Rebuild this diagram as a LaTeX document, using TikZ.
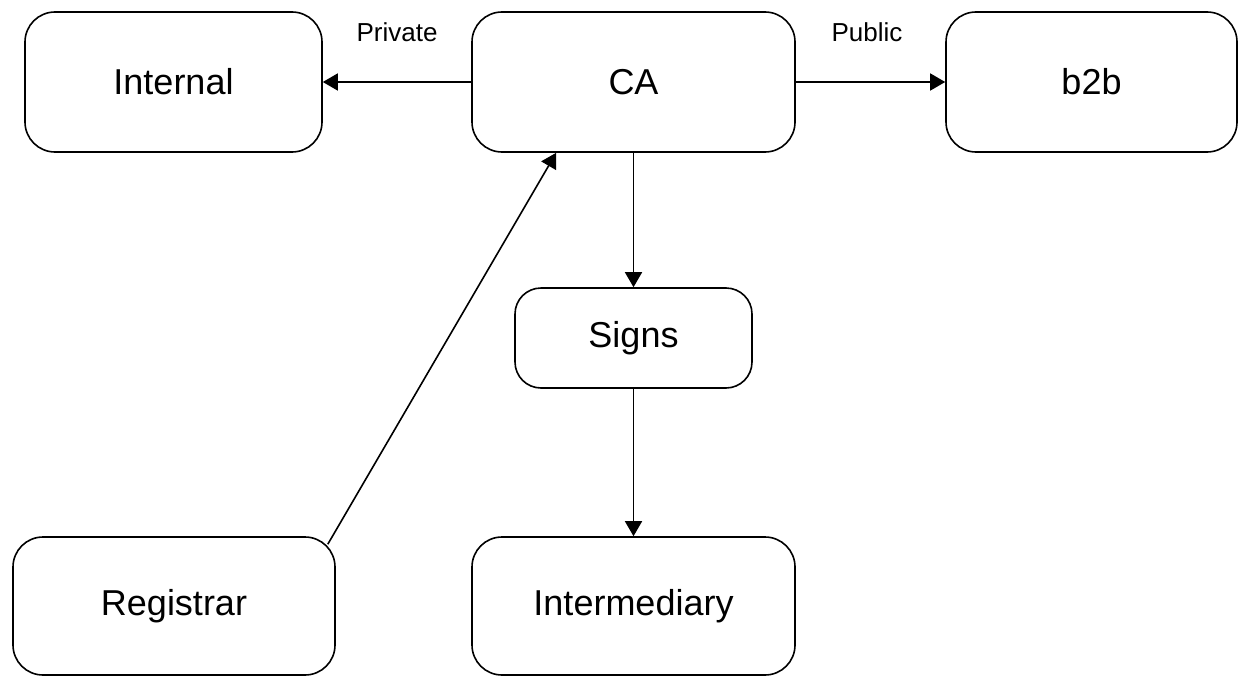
\documentclass[tikz,border=0pt]{standalone}
\usepackage{fontspec}
\setmainfont{Liberation Sans}
\usetikzlibrary{arrows.meta,calc}

\begin{document}
\begin{tikzpicture}[x=1pt,y=1pt,yscale=-1,xscale=1,
  box/.style={draw, line width=1.6pt, rounded corners=30pt, inner sep=0pt, font=\fontsize{36}{40}\selectfont},
  lbl/.style={inner sep=0pt, font=\fontsize{26}{30}\selectfont},
  conn/.style={line width=1.6pt, -{Triangle[length=15pt,width=17pt]}}]
%set diagram size: 1238 x 677
\useasboundingbox (0,0) rectangle (1238,677);

%Shape: Rounded Rect [internal]
\node (internal) at (173.5,82) [box, minimum width=297pt, minimum height=140pt] {Internal};
%Shape: Rounded Rect [ca]
\node (ca) at (633.5,82) [box, minimum width=323pt, minimum height=140pt] {CA};
%Shape: Rounded Rect [b2b]
\node (b2b) at (1091.5,82) [box, minimum width=291pt, minimum height=140pt] {b2b};
%Shape: Rounded Rect [signs]
\node (signs) at (633.5,338) [box, rounded corners=26pt, minimum width=237pt, minimum height=100pt] {Signs};
%Shape: Rounded Rect [registrar]
\node (registrar) at (174,606) [box, minimum width=322pt, minimum height=138pt] {Registrar};
%Shape: Rounded Rect [intermediary]
\node (intermediary) at (633.5,606) [box, minimum width=323pt, minimum height=138pt] {Intermediary};

% Text Node
\node (private) at (397,32) [lbl] {Private};
% Text Node
\node (public) at (867,32) [lbl] {Public};

%Straight Lines
\draw [conn] (ca.west) -- (internal.east);
\draw [conn] (ca.east) -- (b2b.west);
\draw [conn] (ca.south) -- (signs.north);
\draw [conn] (signs.south) -- (intermediary.north);
\coordinate (regcorner) at ($(registrar.north east)+(-8,8)$);
\coordinate (catip) at ($(ca.south west)+(85,0)$);
\draw [conn] (regcorner) -- (catip);

\end{tikzpicture}
\end{document}
